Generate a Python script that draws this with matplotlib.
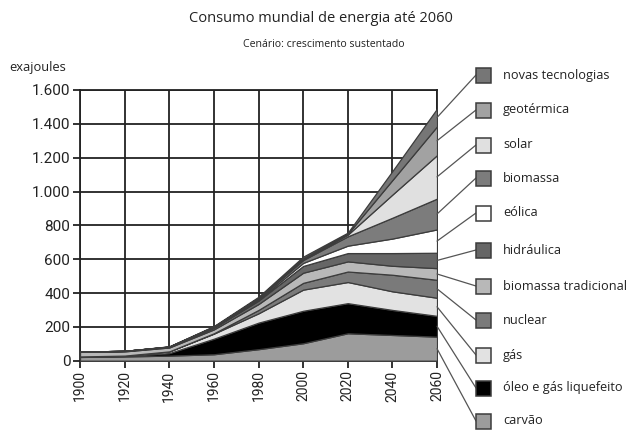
import matplotlib.pyplot as plt
from matplotlib.patches import Rectangle

# anos e camadas (exajoules), de baixo para cima
anos = [1900, 1920, 1940, 1960, 1980, 2000, 2020, 2040, 2060]

carvao = [22, 25, 30, 38, 68, 103, 162, 152, 142]
oleo = [2, 3, 15, 92, 157, 192, 178, 148, 123]
gas = [1, 2, 10, 30, 55, 125, 125, 110, 107]
nuclear = [0, 0, 0, 2, 20, 40, 62, 98, 106]
biomassa_trad = [27, 25, 23, 23, 35, 60, 60, 53, 69]
hidraulica = [2, 3, 4, 10, 20, 40, 49, 75, 91]
eolica = [0, 0, 0, 1, 5, 18, 44, 86, 138]
biomassa = [0, 0, 1, 4, 8, 17, 55, 123, 182]
solar = [0, 0, 0, 1, 2, 5, 10, 137, 257]
geotermica = [0, 0, 1, 1, 2, 5, 5, 86, 170]
novas = [0, 0, 1, 3, 6, 10, 7, 53, 105]

camadas = [carvao, oleo, gas, nuclear, biomassa_trad, hidraulica,
           eolica, biomassa, solar, geotermica, novas]
nomes = ['carvão', 'óleo e gás liquefeito', 'gás', 'nuclear',
         'biomassa tradicional', 'hidráulica', 'eólica', 'biomassa',
         'solar', 'geotérmica', 'novas tecnologias']
cores = ['#9c9c9c', '#000000', '#e2e2e2', '#7a7a7a', '#b8b8b8', '#666666',
         '#ffffff', '#7c7c7c', '#e0e0e0', '#a2a2a2', '#767676']

plt.rcParams['font.family'] = ['Open Sans', 'DejaVu Sans']
texto = '#222222'
fonte_ticks = ['Liberation Sans Narrow', 'Roboto', 'DejaVu Sans']

fig = plt.figure(figsize=(6.32, 4.30), dpi=100)
ax = fig.add_axes([0.1266, 0.1612, 0.5649, 0.6295])

ax.stackplot(anos, *camadas, colors=cores, edgecolor='#3c3c3c',
             linewidth=0.9, zorder=3)

ax.set_xlim(1900, 2060)
ax.set_ylim(0, 1600)
ax.set_xticks(anos)
ax.set_xticklabels([str(a) for a in anos], rotation=90, fontsize=10,
                   color=texto, family=fonte_ticks)
ax.set_yticks(range(0, 1601, 200))
ax.set_yticklabels([f'{v:,}'.replace(',', '.') for v in range(0, 1601, 200)],
                   fontsize=11, color=texto, family=fonte_ticks)
ax.tick_params(length=5, width=1.3, color='#222222', pad=2)
ax.grid(True, color='#222222', linewidth=1.3, zorder=1)
ax.set_axisbelow(True)
for s in ax.spines.values():
    s.set_color('#222222')
    s.set_linewidth(1.3)

fig.text(0.508, 0.958, 'Consumo mundial de energia até 2060', ha='center',
         va='center', fontsize=10.5, color=texto)
fig.text(0.512, 0.897, 'Cenário: crescimento sustentado', ha='center',
         va='center', fontsize=7.6, color=texto)
fig.text(0.014, 0.842, 'exajoules', ha='left', va='center', fontsize=9.3,
         color=texto)

# legenda com linhas de ligação
W, H = 632, 430
centros_y = [421, 388, 355, 320, 286, 250, 213, 178, 145, 110, 75]
base = 0
for vals, nome, cor, cy in zip(camadas, nomes, cores, centros_y):
    meio = base + vals[-1] / 2
    base += vals[-1]
    ax.annotate('', xy=(2060, meio), xycoords='data',
                xytext=(476 / W, 1 - cy / H), textcoords='figure fraction',
                arrowprops=dict(arrowstyle='-', color='#555555', lw=0.9,
                                shrinkA=0, shrinkB=0),
                annotation_clip=False)
    fig.patches.append(Rectangle((476 / W, 1 - (cy + 7.5) / H), 15 / W, 15 / H,
                                 transform=fig.transFigure, facecolor=cor,
                                 edgecolor='#3c3c3c', linewidth=1.1))
    fig.text(503 / W, 1 - cy / H, nome, ha='left', va='center', fontsize=9.2,
             color=texto)

fig.savefig('out.png', dpi=100)
